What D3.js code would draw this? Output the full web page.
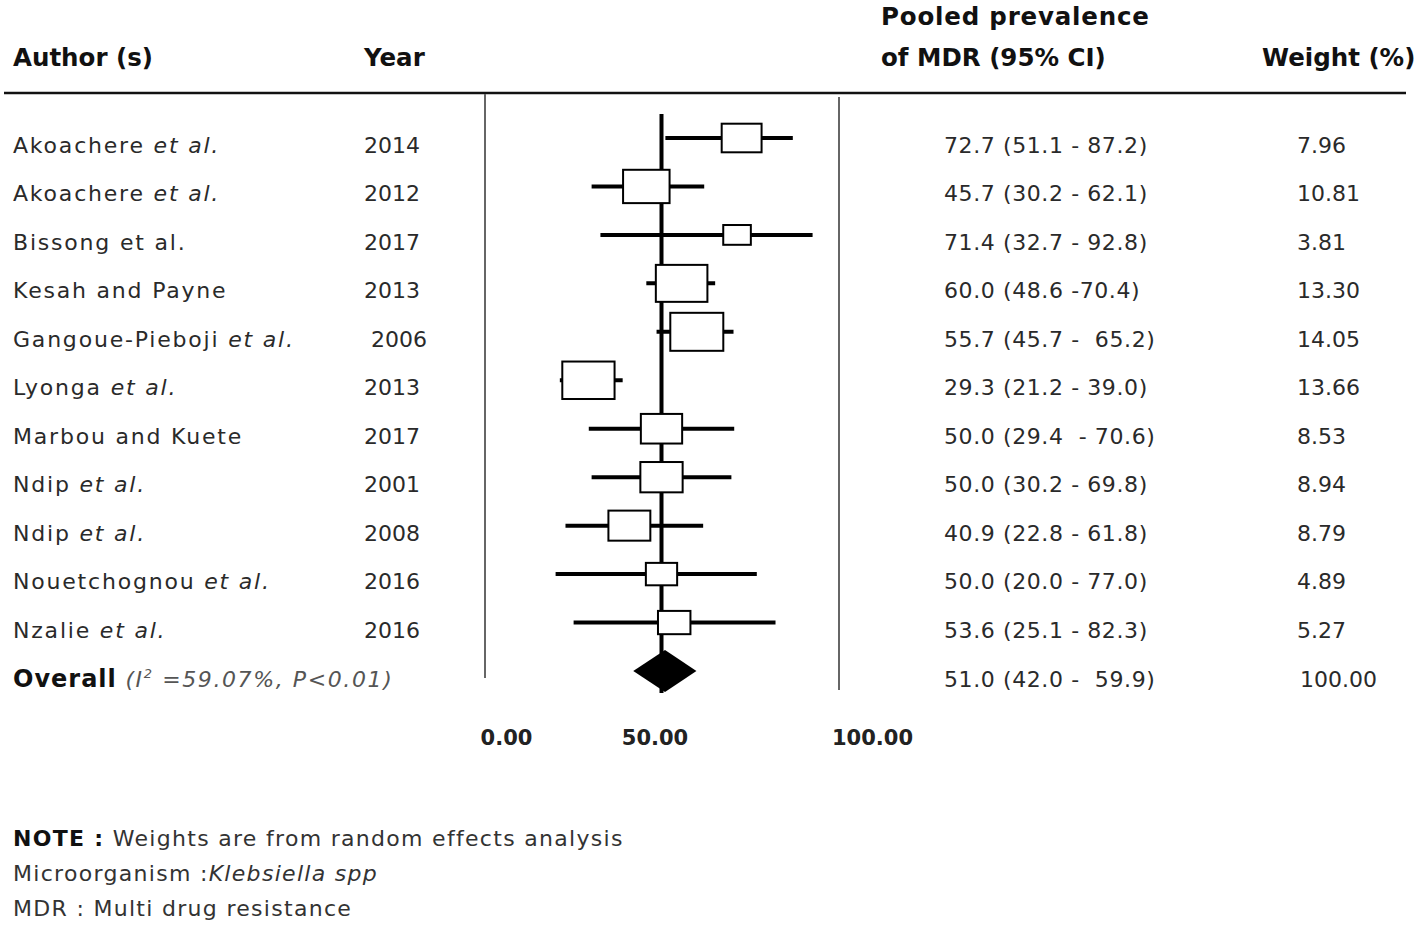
<!DOCTYPE html>
<html lang="en">
<head>
<meta charset="UTF-8">
<title>Forest plot - MDR Klebsiella</title>
<script src="https://cdn.jsdelivr.net/npm/d3@7/dist/d3.min.js"></script>
<style>
  body { margin: 0; background: #fff; }
  svg text { font-family: "DejaVu Sans", sans-serif; fill: #222; white-space: pre; }
  .hdr { font-weight: bold; font-size: 24.5px; fill: #111; }
  .row { font-size: 22px; fill: #2a2a2a; }
  .author { letter-spacing: 1.8px; }
  .cilab { letter-spacing: 0.6px; }
  .note { font-size: 22px; fill: #333; letter-spacing: 1.3px; }
</style>
</head>
<body>
<div id="chart"></div>
<script>
// study table
var authors = ['Akoachere', 'Akoachere', 'Bissong et al.', 'Kesah and Payne', 'Gangoue-Pieboji',
               'Lyonga', 'Marbou and Kuete', 'Ndip', 'Ndip', 'Nouetchognou', 'Nzalie'];
var italicEtAl = [true, true, false, false, true, true, false, true, true, true, true];
var years = ['2014', '2012', '2017', '2013', ' 2006', '2013', '2017', '2001', '2008', '2016', '2016'];
var ciLabels = ['72.7 (51.1 - 87.2)', '45.7 (30.2 - 62.1)', '71.4 (32.7 - 92.8)', '60.0 (48.6 -70.4)',
                '55.7 (45.7 -  65.2)', '29.3 (21.2 - 39.0)', '50.0 (29.4  - 70.6)', '50.0 (30.2 - 69.8)',
                '40.9 (22.8 - 61.8)', '50.0 (20.0 - 77.0)', '53.6 (25.1 - 82.3)'];
var weights = [7.96, 10.81, 3.81, 13.30, 14.05, 13.66, 8.53, 8.94, 8.79, 4.89, 5.27];

// plotted marks (rows 4 and 5 are drawn swapped in the original figure)
var est = [72.7, 45.7, 71.4, 55.7, 60.0, 29.3, 50.0, 50.0, 40.9, 50.0, 53.6];
var lo  = [51.1, 30.2, 32.7, 45.7, 48.6, 21.2, 29.4, 30.2, 22.8, 20.0, 25.1];
var hi  = [87.2, 62.1, 92.8, 65.2, 70.4, 39.0, 70.6, 69.8, 61.8, 77.0, 82.3];

var overall = {est: 51.0, lo: 42.0, hi: 59.9, label: '51.0 (42.0 -  59.9)', weight: 100, i2: '59.07%', p: 'P<0.01'};
var axisTicks = [0, 50, 100];
var refValue = 50;

var width = 1418, height = 928;

var svg = d3.select('#chart').append('svg')
    .attr('width', width).attr('height', height);

var x = d3.scaleLinear().domain([0, 100]).range([485, 838]);
var y = d3.scalePoint().domain(d3.range(authors.length + 1)).range([138, 671]);
var boxW = d3.scaleSqrt().domain([0, 14.05]).range([0, 53]);
var boxH = d3.scaleSqrt().domain([0, 14.05]).range([0, 38]);

// headers
svg.append('text').attr('class', 'hdr').attr('x', 13).attr('y', 66).text('Author (s)');
svg.append('text').attr('class', 'hdr').attr('x', 364).attr('y', 66).text('Year');
svg.append('text').attr('class', 'hdr').attr('x', 881).attr('y', 25).style('letter-spacing', '0.8px').text('Pooled prevalence');
svg.append('text').attr('class', 'hdr').attr('x', 881).attr('y', 66).text('of MDR (95% CI)');
svg.append('text').attr('class', 'hdr').attr('x', 1262).attr('y', 66).text('Weight (%)');

svg.append('line')
    .attr('x1', 4).attr('x2', 1406).attr('y1', 93).attr('y2', 93)
    .attr('stroke', '#111').attr('stroke-width', 2.5);

// frame lines at 0 and 100
svg.append('line')
    .attr('x1', x(0)).attr('x2', x(0)).attr('y1', 94).attr('y2', 678)
    .attr('stroke', '#666').attr('stroke-width', 2);
svg.append('line')
    .attr('x1', x(100) + 1).attr('x2', x(100) + 1).attr('y1', 97).attr('y2', 690)
    .attr('stroke', '#666').attr('stroke-width', 2);

// reference line
svg.append('line')
    .attr('x1', x(refValue)).attr('x2', x(refValue)).attr('y1', 114).attr('y2', 693)
    .attr('stroke', '#000').attr('stroke-width', 4);

var idx = d3.range(authors.length);

// CI whiskers
svg.selectAll('.ci').data(idx).enter().append('line')
    .attr('class', 'ci')
    .attr('x1', function(i) { return x(lo[i]); })
    .attr('x2', function(i) { return x(hi[i]); })
    .attr('y1', function(i) { return y(i); })
    .attr('y2', function(i) { return y(i); })
    .attr('stroke', '#000').attr('stroke-width', 4);

// weight boxes
svg.selectAll('.box').data(idx).enter().append('rect')
    .attr('class', 'box')
    .attr('x', function(i) { return x(est[i]) - boxW(weights[i]) / 2; })
    .attr('y', function(i) { return y(i) - boxH(weights[i]) / 2; })
    .attr('width', function(i) { return boxW(weights[i]); })
    .attr('height', function(i) { return boxH(weights[i]); })
    .attr('fill', '#fff').attr('stroke', '#000').attr('stroke-width', 2);

// overall diamond
var yo = y(authors.length);
svg.append('path')
    .attr('d', 'M' + x(overall.lo) + ',' + yo +
               'L' + x(overall.est) + ',' + (yo - 21) +
               'L' + x(overall.hi) + ',' + yo +
               'L' + x(overall.est) + ',' + (yo + 21) + 'Z')
    .attr('fill', '#000');

// author labels
var authorText = svg.selectAll('.author').data(idx).enter().append('text')
    .attr('class', 'row author')
    .attr('x', 13)
    .attr('y', function(i) { return y(i) + 15; });
authorText.append('tspan').text(function(i) { return authors[i]; });
authorText.filter(function(i) { return italicEtAl[i]; })
    .append('tspan').attr('font-style', 'italic').text(' et al.');

svg.selectAll('.year').data(idx).enter().append('text')
    .attr('class', 'row year')
    .attr('x', 364)
    .attr('y', function(i) { return y(i) + 15; })
    .text(function(i) { return years[i]; });

svg.selectAll('.cilab').data(idx).enter().append('text')
    .attr('class', 'row cilab')
    .attr('x', 944)
    .attr('y', function(i) { return y(i) + 15; })
    .text(function(i) { return ciLabels[i]; });

var fmtW = d3.format('.2f');
svg.selectAll('.wlab').data(idx).enter().append('text')
    .attr('class', 'row wlab')
    .attr('x', 1297)
    .attr('y', function(i) { return y(i) + 15; })
    .text(function(i) { return fmtW(weights[i]); });

// overall row
var ov = svg.append('text').attr('x', 13).attr('y', yo + 16).attr('class', 'row');
ov.append('tspan').attr('font-weight', 'bold').attr('font-size', 24).attr('fill', '#111')
    .style('letter-spacing', '1px').text('Overall');
var het = ov.append('tspan').attr('font-style', 'italic').attr('fill', '#555').style('letter-spacing', '1.6px');
het.append('tspan').text(' (I');
het.append('tspan').attr('font-size', 13).attr('dy', -9).text('2');
het.append('tspan').attr('dy', 9).text(' =' + overall.i2 + ', ' + overall.p + ')');

svg.append('text').attr('class', 'row cilab').attr('x', 944).attr('y', yo + 16).text(overall.label);
svg.append('text').attr('class', 'row').attr('x', 1300).attr('y', yo + 16).text(fmtW(overall.weight));

// axis labels
var tickDx = [21, -7, 34];
var axisG = svg.append('g')
    .attr('transform', 'translate(0,727)')
    .call(d3.axisBottom(x).tickValues(axisTicks).tickFormat(d3.format('.2f')).tickSize(0));
axisG.select('.domain').remove();
axisG.selectAll('text')
    .attr('font-family', '"DejaVu Sans", sans-serif')
    .attr('font-size', 21).attr('font-weight', 'bold')
    .attr('fill', '#111')
    .attr('dx', function(d, i) { return tickDx[i]; });

// notes
var n1 = svg.append('text').attr('class', 'note').attr('x', 13).attr('y', 846);
n1.append('tspan').attr('font-weight', 'bold').attr('fill', '#111').text('NOTE :');
n1.append('tspan').text(' Weights are from random effects analysis');
var n2 = svg.append('text').attr('class', 'note').attr('x', 13).attr('y', 881);
n2.append('tspan').text('Microorganism :');
n2.append('tspan').attr('font-style', 'italic').text('Klebsiella spp');
svg.append('text').attr('class', 'note').attr('x', 13).attr('y', 916).text('MDR : Multi drug resistance');
</script>
</body>
</html>
